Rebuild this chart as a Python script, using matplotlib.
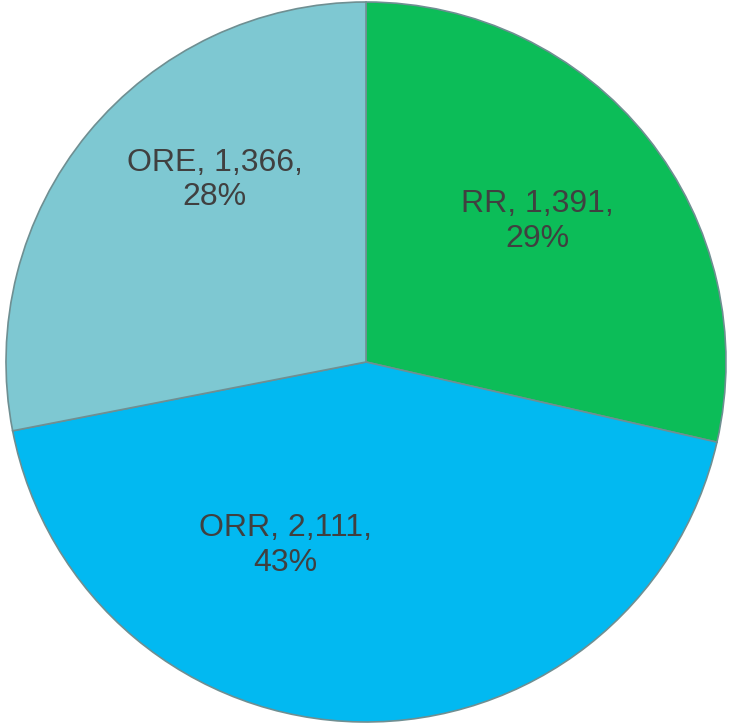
import matplotlib.pyplot as plt

# data
categories = ['RR', 'ORR', 'ORE']
counts = [1391, 2111, 1366]
percent_labels = ['29%', '43%', '28%']

colors = ['#0cbd58', '#02b9f1', '#7ec8d2']
# label centres in data units (Office "best fit" placement)
label_pos = [(0.475, 0.39), (-0.225, -0.51), (-0.42, 0.505)]

fig = plt.figure(figsize=(7.29, 7.27), dpi=100)
ax = fig.add_axes([0, 0, 1, 1])

wedges, _ = ax.pie(counts, colors=colors, startangle=90, counterclock=False,
                   radius=1.0,
                   wedgeprops=dict(edgecolor='#6f8f92', linewidth=1.2))

# pie() resets the view, so fix the limits afterwards
ax.set_xlim(-366 / 360, 363 / 360)
ax.set_ylim(-365 / 360, 362 / 360)
ax.set_aspect('equal')
ax.axis('off')

for name, n, pct, (x, y) in zip(categories, counts, percent_labels, label_pos):
    ax.text(x, y, f'{name}, {n:,},\n{pct}', ha='center', va='center',
            fontsize=23, color='#404040', family='Liberation Sans',
            linespacing=1.2)

fig.savefig('out.png', dpi=100)
